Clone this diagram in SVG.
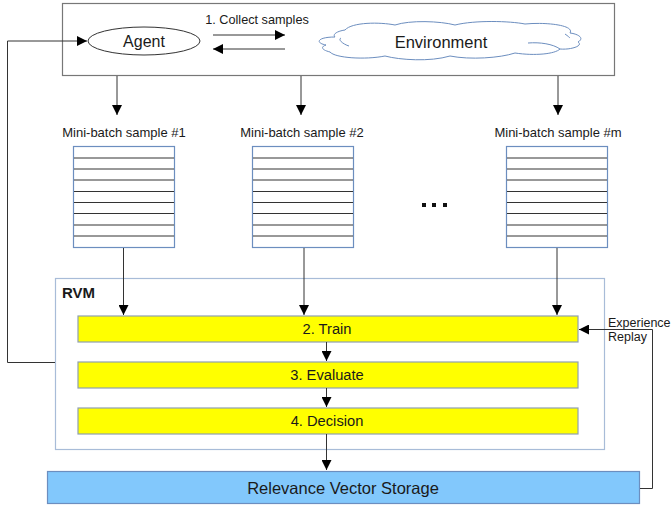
<svg xmlns="http://www.w3.org/2000/svg" width="671" height="508" viewBox="0 0 671 508">
<defs>
<marker id="ah" viewBox="0 0 10 10" refX="10" refY="5" markerWidth="10" markerHeight="10" markerUnits="userSpaceOnUse" orient="auto">
<path d="M0,0 L10,5 L0,10 z" fill="#000"/>
</marker>
<style>
text{font-family:"Liberation Sans",Arial,sans-serif;fill:#1a1a1a}
.c{stroke:#333;stroke-width:1;fill:none}
.ca{stroke:#333;stroke-width:1;fill:none;marker-end:url(#ah)}
.bar{fill:#ffff00;stroke:#8fa0b0;stroke-width:1.2}
.bt{font-size:14.7px;text-anchor:middle}
.mb{fill:#fff;stroke:#6c8ebf;stroke-width:1.2}
.ml{stroke:#333;stroke-width:1}
.lbl{font-size:13px;text-anchor:middle}
</style>
</defs>
<rect width="671" height="508" fill="#fff"/>

<g id="top">
<rect x="62.5" y="3.5" width="552" height="72" fill="#fff" stroke="#777" stroke-width="1.2"/>
</g>
<g id="agent">
<ellipse cx="144" cy="41" rx="56" ry="14" fill="#fff" stroke="#333" stroke-width="1"/>
<text x="144" y="47" font-size="16" text-anchor="middle">Agent</text>
</g>
<g id="environment">
<path d="M345,30 C352,22 380,22 395,25 C410,20 440,21 455,25 C475,20 510,21 525,24 C545,22 575,25 570,33 C578,34 585,38 578,42 C584,46 570,50 560,49 C555,54 535,56 515,53 C500,58 470,60 450,56 C430,62 400,60 385,56 C365,60 335,58 330,52 C322,50 320,47 326,45 C315,43 317,37 335,37 C332,34 338,31 345,30 Z" fill="#fff" stroke="#6c8ebf" stroke-width="1"/>
<path d="M341,38 C337,40 345,45 349,46" fill="none" stroke="#6c8ebf" stroke-width="1"/>
<path d="M528,43 C540,42 553,44 560,49" fill="none" stroke="#6c8ebf" stroke-width="1"/>
<path d="M565,34 C568,36 570,38 570,38" fill="none" stroke="#6c8ebf" stroke-width="1"/>
<text x="441" y="47.5" font-size="16.5" text-anchor="middle">Environment</text>
</g>
<g id="collect">
<text x="257" y="24" font-size="12.7" text-anchor="middle">1. Collect samples</text>
</g>

<g id="mb1">
<text x="124" y="137" class="lbl">Mini-batch sample #1</text>
<rect x="73.5" y="146.5" width="101" height="101" class="mb"/>
<g class="ml">
<line x1="74" y1="158" x2="174" y2="158"/><line x1="74" y1="169" x2="174" y2="169"/><line x1="74" y1="180" x2="174" y2="180"/><line x1="74" y1="191.5" x2="174" y2="191.5"/><line x1="74" y1="202.5" x2="174" y2="202.5"/><line x1="74" y1="213.5" x2="174" y2="213.5"/><line x1="74" y1="225" x2="174" y2="225"/><line x1="74" y1="236" x2="174" y2="236"/>
</g>
</g>
<g id="mb2">
<text x="302" y="137" class="lbl">Mini-batch sample #2</text>
<rect x="252.5" y="146.5" width="101" height="101" class="mb"/>
<g class="ml">
<line x1="253" y1="158" x2="353" y2="158"/><line x1="253" y1="169" x2="353" y2="169"/><line x1="253" y1="180" x2="353" y2="180"/><line x1="253" y1="191.5" x2="353" y2="191.5"/><line x1="253" y1="202.5" x2="353" y2="202.5"/><line x1="253" y1="213.5" x2="353" y2="213.5"/><line x1="253" y1="225" x2="353" y2="225"/><line x1="253" y1="236" x2="353" y2="236"/>
</g>
</g>
<g id="mbm">
<text x="558" y="137" class="lbl">Mini-batch sample #m</text>
<rect x="506.5" y="146.5" width="101" height="101" class="mb"/>
<g class="ml">
<line x1="507" y1="158" x2="607" y2="158"/><line x1="507" y1="169" x2="607" y2="169"/><line x1="507" y1="180" x2="607" y2="180"/><line x1="507" y1="191.5" x2="607" y2="191.5"/><line x1="507" y1="202.5" x2="607" y2="202.5"/><line x1="507" y1="213.5" x2="607" y2="213.5"/><line x1="507" y1="225" x2="607" y2="225"/><line x1="507" y1="236" x2="607" y2="236"/>
</g>
</g>
<g id="dots" fill="#111">
<rect x="422" y="203" width="4" height="4"/><rect x="432" y="203" width="4" height="4"/><rect x="443" y="203" width="4" height="4"/>
</g>

<g id="rvm">
<rect x="55.5" y="278.5" width="549" height="171" fill="#fff" stroke="#a8bcd8" stroke-width="1.2"/>
<text x="62" y="298" font-size="15" font-weight="bold">RVM</text>
</g>
<g id="train">
<rect x="78" y="316" width="500" height="26" class="bar"/>
<text x="327" y="334" class="bt">2. Train</text>
</g>
<g id="evaluate">
<rect x="78" y="362" width="500" height="26" class="bar"/>
<text x="327" y="380" class="bt">3. Evaluate</text>
</g>
<g id="decision">
<rect x="78" y="408" width="500" height="26" class="bar"/>
<text x="327" y="426" class="bt">4. Decision</text>
</g>
<g id="storage">
<rect x="47.5" y="471.5" width="592" height="32" fill="#82c8fc" stroke="#6c8ebf" stroke-width="1.2"/>
<text x="343" y="493.5" font-size="16.5" text-anchor="middle">Relevance Vector Storage</text>
</g>
<g id="replay-label">
<text x="608" y="327" font-size="12.5">Experience</text>
<text x="608" y="341" font-size="12.5">Replay</text>
</g>

<g id="connectors">
<path class="ca" d="M55,362.5 H7.5 V41 H87"/>
<line class="ca" x1="213" y1="35" x2="285" y2="35"/>
<line class="ca" x1="285" y1="49" x2="213" y2="49"/>
<line class="ca" x1="117" y1="76" x2="117" y2="115"/>
<line class="ca" x1="301" y1="76" x2="301" y2="115"/>
<line class="ca" x1="558" y1="76" x2="558" y2="115"/>
<line class="ca" x1="123.5" y1="248" x2="123.5" y2="315"/>
<line class="ca" x1="304" y1="248" x2="304" y2="315"/>
<line class="ca" x1="557" y1="248" x2="557" y2="315"/>
<line class="ca" x1="326.5" y1="342" x2="326.5" y2="361"/>
<line class="ca" x1="326.5" y1="388" x2="326.5" y2="407"/>
<line class="ca" x1="326.5" y1="434" x2="326.5" y2="470"/>
<path class="ca" d="M640,488.5 H652.5 V329.5 H579"/>
</g>
</svg>
